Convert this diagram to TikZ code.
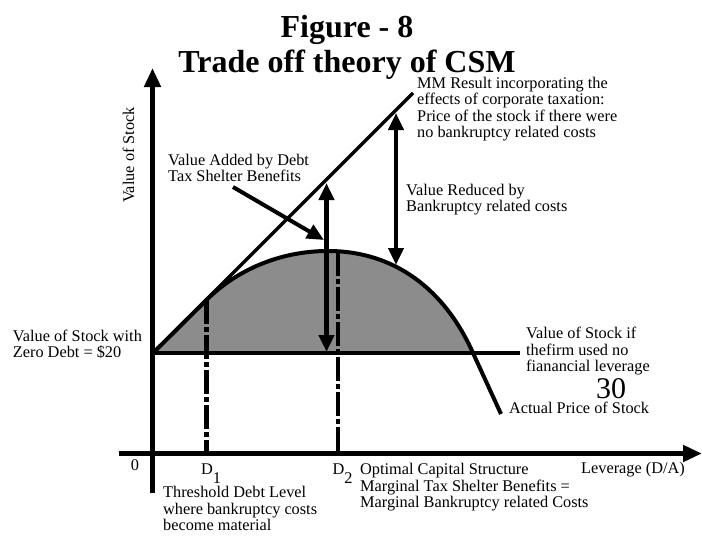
\documentclass[tikz,border=0pt]{standalone}
\usepackage{fontspec}
\setmainfont{Liberation Serif}
\usetikzlibrary{arrows.meta}

\definecolor{areagray}{gray}{0.55}

\tikzset{
	note/.style={font=\fontsize{16.3}{16.5}\selectfont, align=left, anchor=base west, inner sep=0pt},
	axis/.style={line width=5pt, -{Triangle[length=19pt,width=16pt]}},
	gap/.style={line width=4.3pt, {Triangle[length=17pt,width=15pt]}-{Triangle[length=17pt,width=15pt]}},
	marker/.style={line width=4.5pt, dash pattern=on 24pt off 3pt on 5pt off 3pt},
}

\begin{document}
\begin{tikzpicture}[x=1pt, y=-1pt]
	\useasboundingbox (0,0) rectangle (702,538);

	\def\zeroy{353}
	\def\axisy{453.5}
	\def\axisx{152.5}

	%points on the curves
	\coordinate (origin) at (153,\zeroy);
	\coordinate (flatend) at (520,\zeroy);
	\coordinate (mmend) at (413,93);
	\coordinate (split) at (206.5,300);
	\coordinate (peak) at (328,251);
	\coordinate (cross) at (473,\zeroy);
	\coordinate (priceend) at (501,414);

	%shaded gain above the zero debt line
	\fill [areagray] (origin) -- (split) .. controls (236.5,270) and (280,251) .. (peak)
		.. controls (395,251) and (445,290) .. (cross) -- cycle;

	%D1 and D2, dash dot down to the axis
	\foreach \d/\xpos/\ytop in {1/206.5/300, 2/338/251.5}
	{
		\coordinate (top\d) at (\xpos,\ytop);
		\coordinate (foot\d) at (\xpos,\axisy);
		\draw [marker] (top\d) -- (foot\d);
		\node (dlabel\d) [note] at (\xpos-5.5,474) {D\raisebox{-9pt}{\d}};
	}

	%axes
	\coordinate (yfoot) at (\axisx,493);
	\coordinate (ytip) at (\axisx,68);
	\coordinate (xfoot) at (119,\axisy);
	\coordinate (xtip) at (702,\axisy);
	\draw [axis] (yfoot) -- (ytip);
	\draw [axis] (xfoot) -- (xtip);

	%zero debt line, MM line and the actual price
	\draw [line width=4.5pt] (origin) -- (flatend);
	\draw [line width=3.3pt] (origin) -- (mmend);
	\draw [line width=4pt] (origin) -- (split) .. controls (236.5,270) and (280,251) .. (peak)
		.. controls (395,251) and (445,290) .. (cross) -- (priceend);

	%gains and losses
	\coordinate (addtop) at (326.5,183);
	\coordinate (addfoot) at (326.5,352);
	\coordinate (cuttop) at (396,113);
	\coordinate (cutfoot) at (396,265);
	\coordinate (addfrom) at (233,187);
	\coordinate (addto) at (324,240);
	\draw [gap] (addfoot) -- (addtop);
	\draw [gap] (cuttop) -- (cutfoot);
	\draw [line width=4pt, -{Triangle[length=17pt,width=15pt]}] (addfrom) -- (addto);

	%labels (a node's base is the baseline of its last line)
	\node (title) [font=\fontsize{32}{35}\selectfont\bfseries, align=center, anchor=base, inner sep=0pt] at (347,72) {Figure - 8\\Trade off theory of CSM};
	\node (mmnote) [note] at (417,137.5) {MM Result incorporating the\\effects of corporate taxation:\\Price of the stock if there were\\no bankruptcy related costs};
	\node (addnote) [note] at (168,181.5) {Value Added by Debt\\Tax Shelter Benefits};
	\node (cutnote) [note] at (406,211.5) {Value Reduced by\\Bankruptcy related costs};
	\node (zeronote) [note] at (12.7,357.7) {Value of Stock with\\Zero Debt = \$20};
	\node (flatnote) [note] at (526,371.5) {Value of Stock if\\thefirm used no\\fianancial leverage};
	\node (thirty) [note, anchor=base, font=\fontsize{30}{30}\selectfont] at (611,398) {30};
	\node (pricenote) [note] at (509,413) {Actual Price of Stock};
	\node (zero) [note, anchor=base] at (135,470) {0};
	\node (thresholdnote) [note] at (163,530.5) {Threshold Debt Level\\where bankruptcy costs\\become material};
	\node (optimalnote) [note] at (360,507.5) {Optimal Capital Structure\\Marginal Tax Shelter Benefits =\\Marginal Bankruptcy related Costs};
	\node (leverage) [note] at (581,473) {Leverage (D/A)};
	\node (valuelabel) [note, anchor=base, rotate=90] at (134,155) {Value of Stock};

\end{tikzpicture}
\end{document}
